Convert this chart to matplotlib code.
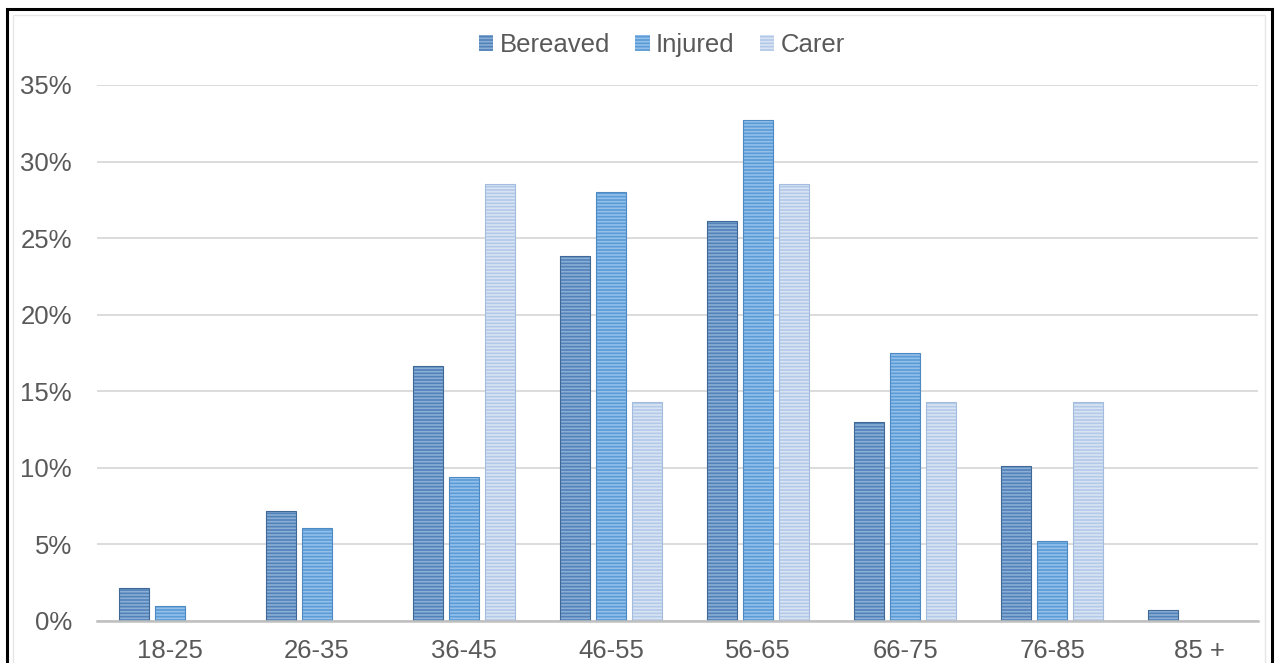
import matplotlib

matplotlib.use("Agg")
import matplotlib.pyplot as plt
import numpy as np
from matplotlib.patches import Rectangle
from matplotlib.ticker import FuncFormatter

plt.rcParams["font.family"] = ["Liberation Sans", "DejaVu Sans"]
plt.rcParams["hatch.linewidth"] = 1.2

# grupos de edad y porcentajes por serie
grupos = ["18-25", "26-35", "36-45", "46-55", "56-65", "66-75", "76-85", "85 +"]
series = ["Bereaved", "Injured", "Carer"]
bereaved = [2.15, 7.2, 16.65, 23.85, 26.1, 13.0, 10.1, 0.7]
injured = [0.98, 6.1, 9.4, 28.0, 32.7, 17.5, 5.2, 0.0]
carer = [0.0, 0.0, 28.55, 14.3, 28.55, 14.3, 14.3, 0.0]

colores = ["#5282b8", "#5b9bd6", "#b3c9e8"]
rayas = ["#8aaed6", "#93c0ea", "#d8e4f4"]
bordes = ["#3f6896", "#4d89c3", "#a3bbdd"]

fig = plt.figure(figsize=(12.78, 6.63), dpi=100)
ax = fig.add_axes([97 / 1278, 42 / 663, 1161 / 1278, 536 / 663])

x = np.arange(len(grupos))
ancho = 0.2
paso = 0.245
for i, (nombre, valores) in enumerate(zip(series, [bereaved, injured, carer])):
    pos = x + (i - 1) * paso
    vals = np.array(valores) / 100
    ax.bar(pos, vals, ancho, color=colores[i], edgecolor=rayas[i],
           hatch="-----", linewidth=0, label=nombre, zorder=3)
    ax.bar(pos, vals, ancho, fill=False, edgecolor=bordes[i], linewidth=0.8, zorder=4)

ax.set_xlim(-0.497, 7.40)
ax.set_ylim(0, 0.35)
ax.set_yticks(np.arange(0, 0.351, 0.05))
ax.yaxis.set_major_formatter(FuncFormatter(lambda v, _: f"{v * 100:.0f}%"))
ax.set_xticks(x)
ax.set_xticklabels(grupos)

ax.grid(axis="y", color="#d9d9d9", linewidth=1.3, zorder=0)
for lado in ["top", "right", "left"]:
    ax.spines[lado].set_visible(False)
ax.spines["bottom"].set_color("#bfbfbf")
ax.spines["bottom"].set_linewidth(1.8)
ax.spines["bottom"].set_zorder(5)
ax.tick_params(axis="both", length=0, labelsize=18.5, labelcolor="#595959")
ax.tick_params(axis="y", pad=18)
ax.tick_params(axis="x", pad=13)

# leyenda arriba, cuadritos pequeños
handles, labels = ax.get_legend_handles_labels()
leg = fig.legend(handles, labels, loc="center", ncol=3, frameon=False,
                 bbox_to_anchor=(662 / 1278, 1 - 45 / 663), fontsize=18.5,
                 handlelength=0.55, handleheight=0.55, handletextpad=0.25,
                 columnspacing=1.0, labelcolor="#595959")

# marco negro de la imagen
fig.patches.append(Rectangle((7 / 1278, -0.05), 1265 / 1278, 1 - 9 / 663 + 0.05,
                             transform=fig.transFigure, fill=False,
                             edgecolor="black", linewidth=2.2))
fig.patches.append(Rectangle((13 / 1278, -0.05), 1252 / 1278, 1 - 15 / 663 + 0.05,
                             transform=fig.transFigure, fill=False,
                             edgecolor="#e6e6e6", linewidth=1.0))

fig.savefig("out.png", dpi=100)
